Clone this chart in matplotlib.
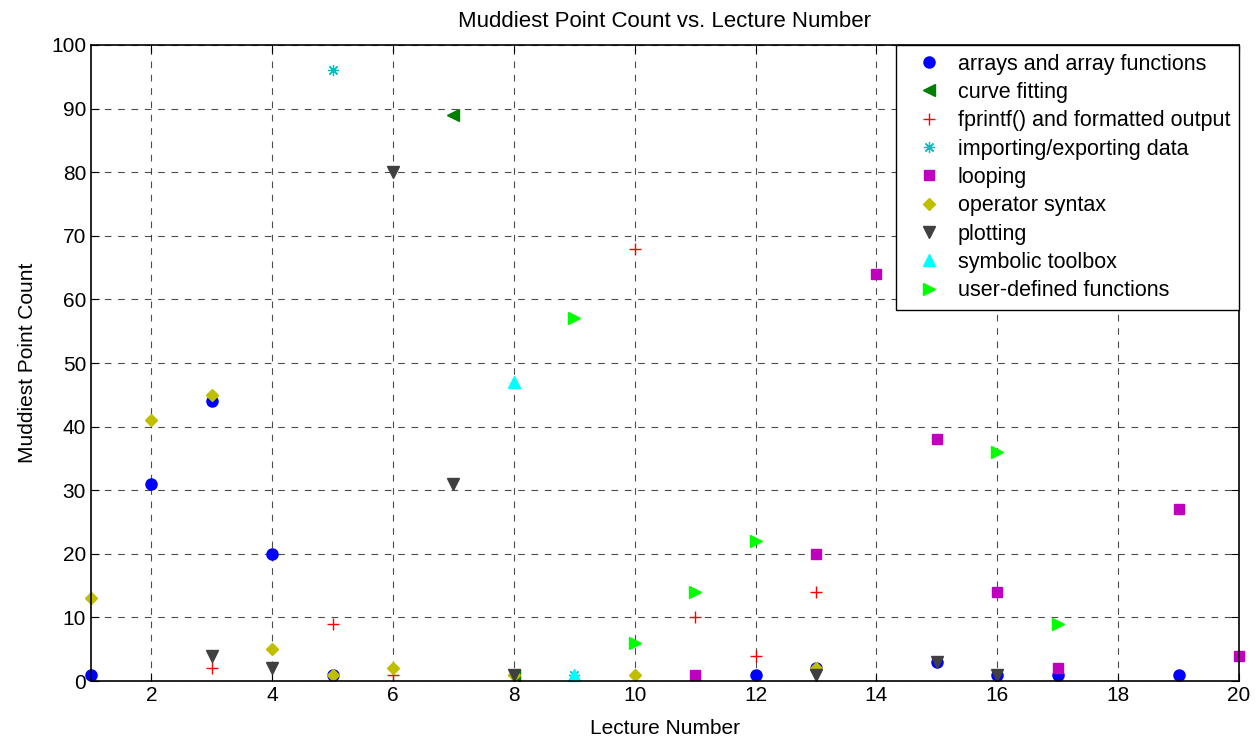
import matplotlib
matplotlib.use('Agg')
import matplotlib.pyplot as plt

plt.rcParams['font.family'] = ['Liberation Sans', 'DejaVu Sans']

# lecture number / count per topic
arrays_x = [1, 2, 3, 4, 5, 12, 13, 15, 16, 17, 19]
arrays_y = [1, 31, 44, 20, 1, 1, 2, 3, 1, 1, 1]
curve_x = [7, 8]
curve_y = [89, 1]
fprintf_x = [3, 5, 6, 10, 11, 12, 13]
fprintf_y = [2, 9, 1, 68, 10, 4, 14]
import_x = [5, 9]
import_y = [96, 1]
loop_x = [11, 13, 14, 15, 16, 17, 19, 20]
loop_y = [1, 20, 64, 38, 14, 2, 27, 4]
oper_x = [1, 2, 3, 4, 5, 6, 8, 10, 13]
oper_y = [13, 41, 45, 5, 1, 2, 1, 1, 2]
plot_x = [3, 4, 6, 7, 8, 13, 15, 16]
plot_y = [4, 2, 80, 31, 1, 1, 3, 1]
symb_x = [8, 9]
symb_y = [47, 1]
user_x = [9, 10, 11, 12, 16, 17]
user_y = [57, 6, 14, 22, 36, 9]

fig = plt.figure(figsize=(12.6, 7.4), dpi=100)
ax = fig.add_axes([0.0722, 0.0797, 0.9111, 0.8595])

ax.plot(arrays_x, arrays_y, 'o', color='#0000ff', ms=8, label='arrays and array functions', clip_on=False)
ax.plot(curve_x, curve_y, '<', color='#007f00', ms=8, label='curve fitting', clip_on=False)
ax.plot(fprintf_x, fprintf_y, '+', color='#ff0000', ms=8.5, mew=1.0, label='fprintf() and formatted output', clip_on=False)
ax.plot(import_x, import_y, marker=(8, 2, 0), ls='none', color='#00bfbf', ms=8, mew=0.9,
        label='importing/exporting data', clip_on=False)
ax.plot(loop_x, loop_y, 's', color='#bf00bf', ms=7.5, label='looping', clip_on=False)
ax.plot(oper_x, oper_y, 'D', color='#bfbf00', ms=6.5, label='operator syntax', clip_on=False)
ax.plot(plot_x, plot_y, 'v', color='#404040', ms=8.5, label='plotting', clip_on=False)
ax.plot(symb_x, symb_y, '^', color='#00ffff', ms=8.5, label='symbolic toolbox', clip_on=False)
ax.plot(user_x, user_y, '>', color='#00ff00', ms=8.5, label='user-defined functions', clip_on=False)

ax.set_xlim(1, 20)
ax.set_ylim(0, 100)
ax.set_xticks(range(2, 21, 2))
ax.set_yticks(range(0, 101, 10))
ax.tick_params(direction='in', top=True, right=True, labelsize=15, length=6, width=0.8)
ax.grid(True, color='black', linestyle=(0, (6, 6)), linewidth=0.8, alpha=0.7)
ax.set_axisbelow(True)
for s in ax.spines.values():
    s.set_linewidth(1.2)

ax.set_title('Muddiest Point Count vs. Lecture Number', fontsize=16, pad=13)
ax.set_xlabel('Lecture Number', fontsize=15, labelpad=10)
ax.set_ylabel('Muddiest Point Count', fontsize=15, labelpad=10)

leg = ax.legend(loc='upper right', fontsize=15.5, fancybox=False, framealpha=1,
                edgecolor='black', borderpad=0.4, labelspacing=0.34, handletextpad=0.25,
                borderaxespad=0.0, handlelength=2.2)
leg.get_frame().set_linewidth(1.0)

fig.savefig('out.png', dpi=100)
